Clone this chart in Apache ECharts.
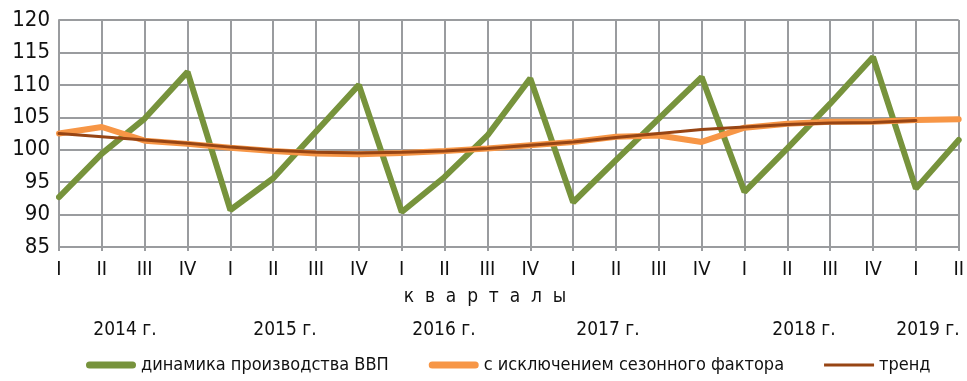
<!DOCTYPE html>
<html>
<head>
<meta charset="utf-8">
<script src="https://cdn.jsdelivr.net/npm/echarts@6/dist/echarts.min.js"></script>
<style>
  html, body { margin: 0; padding: 0; background: #fff; }
  #chart { width: 967px; height: 381px; }
</style>
</head>
<body>
<div id="chart"></div>
<script>
// Quarters 2014 I .. 2019 II
const quarters = ['I','II','III','IV','I','II','III','IV','I','II','III','IV',
                  'I','II','III','IV','I','II','III','IV','I','II'];

// GDP production dynamics
const gdpDynamics = [92.7, 99.4, 104.8, 112.0, 90.7, 95.6, 102.8, 110.0,
                     90.4, 95.8, 102.2, 111.0, 91.9, 98.4, 104.8, 111.2,
                     93.5, 100.2, 107.1, 114.3, 94.0, 101.5];

// Seasonally adjusted
const seasonallyAdjusted = [102.5, 103.5, 101.4, 100.9, 100.3, 99.8, 99.4, 99.3,
                            99.5, 99.8, 100.2, 100.7, 101.2, 102.0, 102.2, 101.2,
                            103.4, 104.0, 104.3, 104.3, 104.6, 104.7];

// Trend (ends at 2019 I)
const trend = [102.5, 102.0, 101.5, 101.0, 100.4, 99.9, 99.6, 99.5,
               99.6, 99.8, 100.2, 100.7, 101.2, 101.9, 102.5, 103.1,
               103.5, 103.9, 104.1, 104.2, 104.5, null];

const yearLabels = ['2014 г.', '2015 г.', '2016 г.', '2017 г.', '2018 г.', '2019 г.'];
const yearLabelX = [125, 285, 444, 608, 804, 928];

const seriesNames = ['динамика производства ВВП', 'с исключением сезонного фактора', 'тренд'];
const seriesColors = ['#77933c', '#f79646', '#974514'];

const FONT = '"DejaVu Sans Condensed", "Noto Sans", sans-serif';
const gridColor = '#9a9c9f';

// legend swatches: thick rounded bar for the two main series, thin bar for the trend
const thickIcon = 'path://M3.5,0 L46.5,0 A3.5,3.5 0 0 1 46.5,7 L3.5,7 A3.5,3.5 0 0 1 3.5,0 Z';
const thinIcon = 'path://M0,0 L50,0 L50,3 L0,3 Z';

const chart = echarts.init(document.getElementById('chart'), null, { renderer: 'canvas' });

chart.setOption({
  animation: false,
  textStyle: { fontFamily: FONT },
  grid: { left: 59, right: 6, top: 20, bottom: 134, containLabel: false },
  xAxis: {
    type: 'category',
    data: quarters,
    boundaryGap: false,
    axisLine: { lineStyle: { color: gridColor, width: 2 } },
    axisTick: { show: true, length: 4, lineStyle: { color: gridColor, width: 2 } },
    splitLine: { show: true, lineStyle: { color: gridColor, width: 2 } },
    axisLabel: { color: '#111', fontSize: 20, fontFamily: FONT, margin: 13, interval: 0 }
  },
  yAxis: {
    type: 'value',
    min: 85,
    max: 120,
    interval: 5,
    axisLine: { show: true, lineStyle: { color: gridColor, width: 2 } },
    axisTick: { show: false },
    splitLine: { show: true, lineStyle: { color: gridColor, width: 2 } },
    axisLabel: { color: '#111', fontSize: 22, fontFamily: FONT, margin: 9 }
  },
  legend: {
    bottom: 2,
    left: 81,
    width: 900,
    itemGap: 40,
    itemWidth: 50,
    itemHeight: 7,
    textStyle: { color: '#111', fontSize: 18, fontFamily: FONT },
    data: [
      { name: seriesNames[0], icon: thickIcon, itemStyle: { color: seriesColors[0] } },
      { name: seriesNames[1], icon: thickIcon, itemStyle: { color: seriesColors[1] } },
      { name: seriesNames[2], icon: thinIcon, itemStyle: { color: seriesColors[2] } }
    ]
  },
  series: [
    {
      name: seriesNames[0],
      type: 'line',
      data: gdpDynamics,
      symbol: 'none',
      lineStyle: { color: seriesColors[0], width: 6, cap: 'round' },
      itemStyle: { color: seriesColors[0] },
      z: 2
    },
    {
      name: seriesNames[1],
      type: 'line',
      data: seasonallyAdjusted,
      symbol: 'none',
      lineStyle: { color: seriesColors[1], width: 6, cap: 'round' },
      itemStyle: { color: seriesColors[1] },
      z: 3
    },
    {
      name: seriesNames[2],
      type: 'line',
      data: trend,
      symbol: 'none',
      lineStyle: { color: seriesColors[2], width: 3, cap: 'round' },
      itemStyle: { color: seriesColors[2] },
      z: 4
    }
  ],
  graphic: [
    {
      type: 'text',
      x: 485,
      y: 297,
      style: {
        text: 'к  в  а  р  т  а  л  ы',
        fill: '#111',
        fontSize: 19,
        fontFamily: FONT,
        textAlign: 'center',
        textVerticalAlign: 'middle'
      }
    }
  ].concat(yearLabels.map((t, i) => ({
    type: 'text',
    x: yearLabelX[i],
    y: 330,
    style: {
      text: t,
      fill: '#111',
      fontSize: 19,
      fontFamily: FONT,
      textAlign: 'center',
      textVerticalAlign: 'middle'
    }
  })))
});
</script>
</body>
</html>
